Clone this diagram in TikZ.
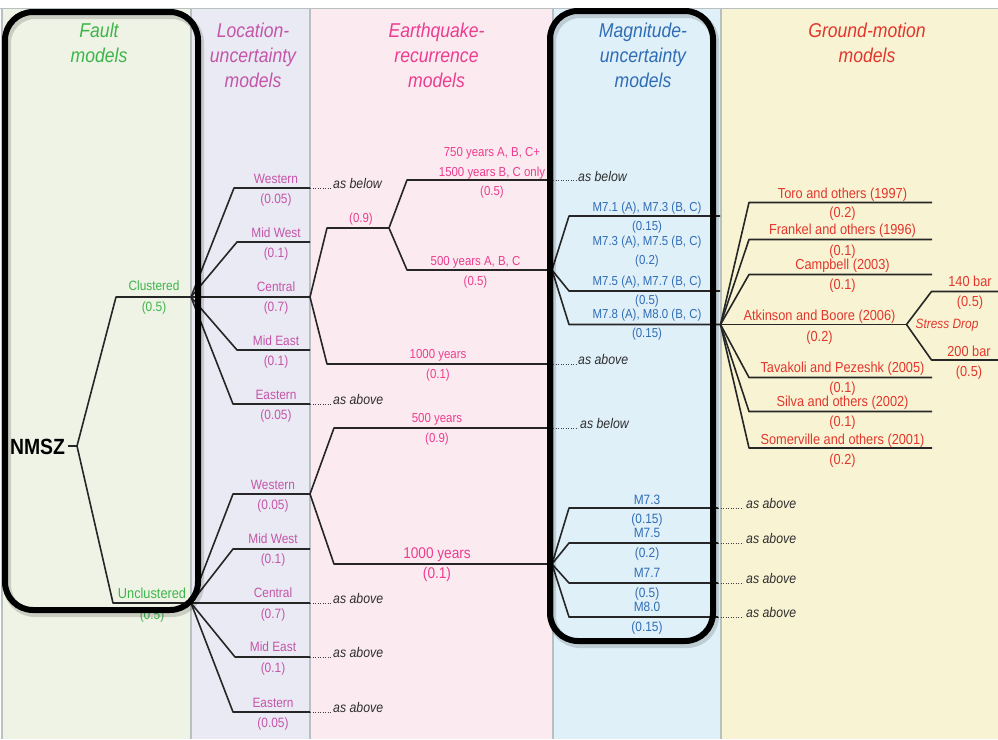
\documentclass[tikz,border=0pt]{standalone}
\usepackage{fontspec}
\setmainfont[FakeStretch=0.88]{Liberation Sans}
\definecolor{bgF}{HTML}{EEF3E5}
\definecolor{bgL}{HTML}{EAEAF4}
\definecolor{bgE}{HTML}{FBEBF0}
\definecolor{bgM}{HTML}{E0F0F9}
\definecolor{bgG}{HTML}{F8F4D3}
\definecolor{sepC}{HTML}{B9C0C1}
\definecolor{fC}{HTML}{3DB54A}
\definecolor{lC}{HTML}{C455A8}
\definecolor{eC}{HTML}{EC3C8F}
\definecolor{mC}{HTML}{2F6DB5}
\definecolor{gC}{HTML}{E2362D}
\definecolor{noteC}{HTML}{2E2E2E}
\tikzset{
  tree/.style={draw=black!85, line width=1.6pt, line join=round},
  dotl/.style={draw=black!75, line width=0.9pt, dash pattern=on 0.9pt off 1.6pt},
  lab/.style={inner sep=0pt, anchor=base, font=\fontsize{13.5}{13.5}\selectfont},
  labs/.style={inner sep=0pt, anchor=base, font=\fontsize{13}{13}\selectfont},
  labg/.style={inner sep=0pt, anchor=base, font=\fontsize{14.5}{14.5}\selectfont, text=gC},
  labb/.style={inner sep=0pt, anchor=base, font=\fontsize{15.5}{15.5}\selectfont},
  title/.style={inner sep=0pt, anchor=north, align=center, font=\itshape\fontsize{20}{25}\selectfont},
  note/.style={inner sep=0pt, anchor=base west, text=noteC, font=\itshape\fontsize{14}{14}\selectfont},
  bbox/.style={draw=black, line width=6pt, rounded corners=28pt},
  bshadow/.style={draw=black, opacity=0.15, line width=8pt, rounded corners=28pt},
}
\begin{document}
\begin{tikzpicture}[x=1pt,y=-1pt]
\useasboundingbox (0,0) rectangle (998,739);
% backgrounds
\fill[white] (0,0) rectangle (998,739);
\fill[bgF] (2,8) rectangle (191,739);
\fill[bgL] (191,8) rectangle (310,739);
\fill[bgE] (310,8) rectangle (553,739);
\fill[bgM] (553,8) rectangle (721,739);
\fill[bgG] (721,8) rectangle (998,739);
\draw[sepC, line width=1pt] (0,8) -- (998,8);
\foreach \x in {2,191,310,553,721} \draw[sepC, line width=1.2pt] (\x,8) -- (\x,739);

% titles
\node[title, text=fC] (tF) at (99,22.6) {Fault\\models};
\node[title, text=lC] (tL) at (253,22.6) {Location-\\uncertainty\\models};
\node[title, text=eC] (tE) at (436.5,22.6) {Earthquake-\\recurrence\\models};
\node[title, text=mC] (tM) at (643,22.6) {Magnitude-\\uncertainty\\models};
\node[title, text=gC] (tG) at (867,22.6) {Ground-motion\\models};

% root
\node[inner sep=0pt, anchor=base, font=\bfseries\fontsize{22}{22}\selectfont] (nmsz) at (37.5,454) {NMSZ};
\coordinate (n0) at (68,446);
\coordinate (n1) at (77,446);
\draw[tree] (n0) -- (n1);

% fault models
\coordinate (ck) at (116,297); \coordinate (cl) at (191,297);
\coordinate (uk) at (113,603); \coordinate (ul) at (191,603);
\draw[tree] (n1) -- (ck) -- (cl);
\draw[tree] (n1) -- (uk) -- (ul);
\node[lab, text=fC] (clu) at (154,290.8) {Clustered};
\node[lab, text=fC] (cluP) at (154,311.2) {(0.5)};
\node[lab, text=fC, font=\fontsize{14.5}{14.5}\selectfont] (unc) at (152,598) {Unclustered};
\node[lab, text=fC] (uncP) at (152,619) {(0.5)};

% location upper
\coordinate (lwk) at (234,188); \coordinate (lw) at (310,188);
\coordinate (lmwk) at (237,242); \coordinate (lmw) at (310,242);
\coordinate (lc) at (310,297);
\coordinate (lmek) at (237,350); \coordinate (lme) at (310,350);
\coordinate (lek) at (233,404); \coordinate (le) at (310,404);
\draw[tree] (cl) -- (lwk) -- (lw);
\draw[tree] (cl) -- (lmwk) -- (lmw);
\draw[tree] (cl) -- (lc);
\draw[tree] (cl) -- (lmek) -- (lme);
\draw[tree] (cl) -- (lek) -- (le);
\node[lab, text=lC] (luW) at (276,183.1) {Western};
\node[lab, text=lC] (luWp) at (276,203.1) {(0.05)};
\node[lab, text=lC] (luMW) at (276,237.1) {Mid West};
\node[lab, text=lC] (luMWp) at (276,257.1) {(0.1)};
\node[lab, text=lC] (luC) at (276,291.5) {Central};
\node[lab, text=lC] (luCp) at (276,311.5) {(0.7)};
\node[lab, text=lC] (luME) at (276,345.5) {Mid East};
\node[lab, text=lC] (luMEp) at (276,365.5) {(0.1)};
\node[lab, text=lC] (luE) at (276,399.8) {Eastern};
\node[lab, text=lC] (luEp) at (276,419.8) {(0.05)};

% location lower
\coordinate (dwk) at (233,494); \coordinate (dw) at (310,494);
\coordinate (dmwk) at (233,549); \coordinate (dmw) at (310,549);
\coordinate (dc) at (310,603);
\coordinate (dmek) at (235,657); \coordinate (dme) at (310,657);
\coordinate (dek) at (233,712); \coordinate (de) at (310,712);
\draw[tree] (ul) -- (dwk) -- (dw);
\draw[tree] (ul) -- (dmwk) -- (dmw);
\draw[tree] (ul) -- (dc);
\draw[tree] (ul) -- (dmek) -- (dme);
\draw[tree] (ul) -- (dek) -- (de);
\node[lab, text=lC] (ldW) at (273,489.8) {Western};
\node[lab, text=lC] (ldWp) at (273,509.8) {(0.05)};
\node[lab, text=lC] (ldMW) at (273,543.8) {Mid West};
\node[lab, text=lC] (ldMWp) at (273,563.8) {(0.1)};
\node[lab, text=lC] (ldC) at (273,597.5) {Central};
\node[lab, text=lC] (ldCp) at (273,618.1) {(0.7)};
\node[lab, text=lC] (ldME) at (273,651.5) {Mid East};
\node[lab, text=lC] (ldMEp) at (273,672.1) {(0.1)};
\node[lab, text=lC] (ldE) at (273,707.1) {Eastern};
\node[lab, text=lC] (ldEp) at (273,727.1) {(0.05)};

% location notes
\coordinate (lwd) at (331,188); \draw[dotl] (lw) -- (lwd);
\node[note] (nlw) at (333,188) {as below};
\coordinate (led) at (331,404); \draw[dotl] (le) -- (led);
\node[note] (nle) at (333,404) {as above};
\coordinate (dcd) at (331,603); \draw[dotl] (dc) -- (dcd);
\node[note] (ndc) at (333,603) {as above};
\coordinate (dmed) at (331,657); \draw[dotl] (dme) -- (dmed);
\node[note] (ndme) at (333,657) {as above};
\coordinate (ded) at (331,712); \draw[dotl] (de) -- (ded);
\node[note] (nde) at (333,712) {as above};

% earthquake upper
\coordinate (ak) at (327,228); \coordinate (a1) at (389,228);
\coordinate (bk) at (407,180); \coordinate (b1) at (552,180);
\coordinate (bbk) at (407,270); \coordinate (bb1) at (552,270);
\coordinate (dk) at (327,364); \coordinate (d1) at (552,364);
\draw[tree] (lc) -- (ak) -- (a1);
\draw[tree] (a1) -- (bk) -- (b1);
\draw[tree] (a1) -- (bbk) -- (bb1);
\draw[tree] (lc) -- (dk) -- (d1);
\node[labs, text=eC] (e750) at (492,156.6) {750 years A, B, C+};
\node[labs, text=eC] (e1500) at (492,176.6) {1500 years B, C only};
\node[labs, text=eC] (e750p) at (492,195.6) {(0.5)};
\node[labs, text=eC] (e09) at (361,222.6) {(0.9)};
\node[labs, text=eC] (e500) at (475.5,265.6) {500 years A, B, C};
\node[labs, text=eC] (e500p) at (475.5,285.6) {(0.5)};
\node[labs, text=eC] (e1000) at (438,358.6) {1000 years};
\node[labs, text=eC] (e1000p) at (438,378.6) {(0.1)};

% earthquake lower
\coordinate (fk) at (334,428); \coordinate (f1) at (552,428);
\coordinate (hk) at (334,564); \coordinate (h1) at (552,564);
\draw[tree] (dw) -- (fk) -- (f1);
\draw[tree] (dw) -- (hk) -- (h1);
\node[labs, text=eC] (f500) at (437,422.6) {500 years};
\node[labs, text=eC] (f500p) at (437,442.6) {(0.9)};
\node[labb, text=eC] (h1000) at (437,558.5) {1000 years};
\node[labb, text=eC] (h1000p) at (437,578.5) {(0.1)};

% earthquake notes
\coordinate (b1s) at (553,180); \coordinate (b1d) at (576,180); \draw[dotl] (b1s) -- (b1d);
\node[note] (nb1) at (578,181) {as below};
\coordinate (d1s) at (553,364); \coordinate (d1d) at (576,364); \draw[dotl] (d1s) -- (d1d);
\node[note] (nd1) at (578,364) {as above};
\coordinate (f1s) at (553,428); \coordinate (f1d) at (578,428); \draw[dotl] (f1s) -- (f1d);
\node[note] (nf1) at (580,428) {as below};

% magnitude upper
\coordinate (m1k) at (569,216); \coordinate (m1) at (720,216);
\coordinate (m3k) at (569,291); \coordinate (m3) at (720,291);
\coordinate (m4k) at (569,324.5); \coordinate (m4) at (720.5,324.5);
\draw[tree] (bb1) -- (m1k) -- (m1);
\draw[tree] (bb1) -- (m3k) -- (m3);
\draw[tree] (bb1) -- (m4k) -- (m4);
\node[labs, text=mC] (mu1) at (647,211.6) {M7.1 (A), M7.3 (B, C)};
\node[labs, text=mC] (mu1p) at (647,230.6) {(0.15)};
\node[labs, text=mC] (mu2) at (647,245.6) {M7.3 (A), M7.5 (B, C)};
\node[labs, text=mC] (mu2p) at (647,264.6) {(0.2)};
\node[labs, text=mC] (mu3) at (647,285.6) {M7.5 (A), M7.7 (B, C)};
\node[labs, text=mC] (mu3p) at (647,304.6) {(0.5)};
\node[labs, text=mC] (mu4) at (647,318.6) {M7.8 (A), M8.0 (B, C)};
\node[labs, text=mC] (mu4p) at (647,337.6) {(0.15)};

% magnitude lower
\coordinate (q1k) at (569,508); \coordinate (q1) at (718,508);
\coordinate (q2k) at (569,543); \coordinate (q2) at (718,543);
\coordinate (q3k) at (569,583); \coordinate (q3) at (718,583);
\coordinate (q4k) at (569,617); \coordinate (q4) at (718,617);
\draw[tree] (h1) -- (q1k) -- (q1);
\draw[tree] (h1) -- (q2k) -- (q2);
\draw[tree] (h1) -- (q3k) -- (q3);
\draw[tree] (h1) -- (q4k) -- (q4);
\node[lab, text=mC] (ml1) at (647,504.8) {M7.3};
\node[lab, text=mC] (ml1p) at (647,523.8) {(0.15)};
\node[lab, text=mC] (ml2) at (647,537.8) {M7.5};
\node[lab, text=mC] (ml2p) at (647,557.8) {(0.2)};
\node[lab, text=mC] (ml3) at (647,577.8) {M7.7};
\node[lab, text=mC] (ml3p) at (647,597.8) {(0.5)};
\node[lab, text=mC] (ml4) at (647,611.8) {M8.0};
\node[lab, text=mC] (ml4p) at (647,631.8) {(0.15)};
\coordinate (q1d) at (743,508); \draw[dotl] (q1) -- (q1d);
\node[note] (nq1) at (746,508) {as above};
\coordinate (q2d) at (743,543); \draw[dotl] (q2) -- (q2d);
\node[note] (nq2) at (746,543) {as above};
\coordinate (q3d) at (743,583); \draw[dotl] (q3) -- (q3d);
\node[note] (nq3) at (746,583) {as above};
\coordinate (q4d) at (743,617); \draw[dotl] (q4) -- (q4d);
\node[note] (nq4) at (746,617) {as above};

% ground motion
\coordinate (g1k) at (749,202.5); \coordinate (g1) at (932,202.5);
\coordinate (g2k) at (749,239.5); \coordinate (g2) at (932,239.5);
\coordinate (g3k) at (749,274.5); \coordinate (g3) at (932,274.5);
\coordinate (g4) at (906.5,324.5);
\coordinate (g5k) at (749,377.5); \coordinate (g5) at (932,377.5);
\coordinate (g6k) at (749,411.5); \coordinate (g6) at (932,411.5);
\coordinate (g7k) at (749,448); \coordinate (g7) at (932,448);
\draw[tree] (m4) -- (g1k) -- (g1);
\draw[tree] (m4) -- (g2k) -- (g2);
\draw[tree] (m4) -- (g3k) -- (g3);
\draw[tree] (m4) -- (g4);
\draw[tree] (m4) -- (g5k) -- (g5);
\draw[tree] (m4) -- (g6k) -- (g6);
\draw[tree] (m4) -- (g7k) -- (g7);
\coordinate (s1k) at (931.5,291.5); \coordinate (s1) at (998,291.5);
\coordinate (s2k) at (931.5,360); \coordinate (s2) at (998,360);
\draw[tree] (g4) -- (s1k) -- (s1);
\draw[tree] (g4) -- (s2k) -- (s2);
\node[labg] (gT) at (842.5,198.1) {Toro and others (1997)};
\node[labg] (gTp) at (842.5,217.8) {(0.2)};
\node[labg] (gF) at (842.5,234.9) {Frankel and others (1996)};
\node[labg] (gFp) at (842.5,255) {(0.1)};
\node[labg] (gC) at (842.5,269.7) {Campbell (2003)};
\node[labg] (gCp) at (842.5,289.8) {(0.1)};
\node[labg] (gA) at (819.5,320.9) {Atkinson and Boore (2006)};
\node[labg] (gAp) at (819.5,341) {(0.2)};
\node[labg] (gTa) at (842.5,372.8) {Tavakoli and Pezeshk (2005)};
\node[labg] (gTap) at (842.5,392.9) {(0.1)};
\node[labg] (gS) at (842.5,406.2) {Silva and others (2002)};
\node[labg] (gSp) at (842.5,426.2) {(0.1)};
\node[labg] (gSo) at (842.5,444.8) {Somerville and others (2001)};
\node[labg] (gSop) at (842.5,464.9) {(0.2)};
\node[labg] (s140) at (970,286.4) {140 bar};
\node[labg] (s140p) at (970,306.5) {(0.5)};
\node[labg] (s200) at (969,356.7) {200 bar};
\node[labg] (s200p) at (969,376.8) {(0.5)};
\node[lab, text=gC, font=\itshape\fontsize{13.5}{13.5}\selectfont] (sd) at (947,328.8) {Stress Drop};

% black rounded frames
\draw[bshadow] (7,15) rectangle (200,613);
\draw[bshadow] (552,14) rectangle (715,644);
\draw[bbox] (5,12) rectangle (198,610);
\draw[bbox] (550,11) rectangle (713,641);
\end{tikzpicture}
\end{document}
